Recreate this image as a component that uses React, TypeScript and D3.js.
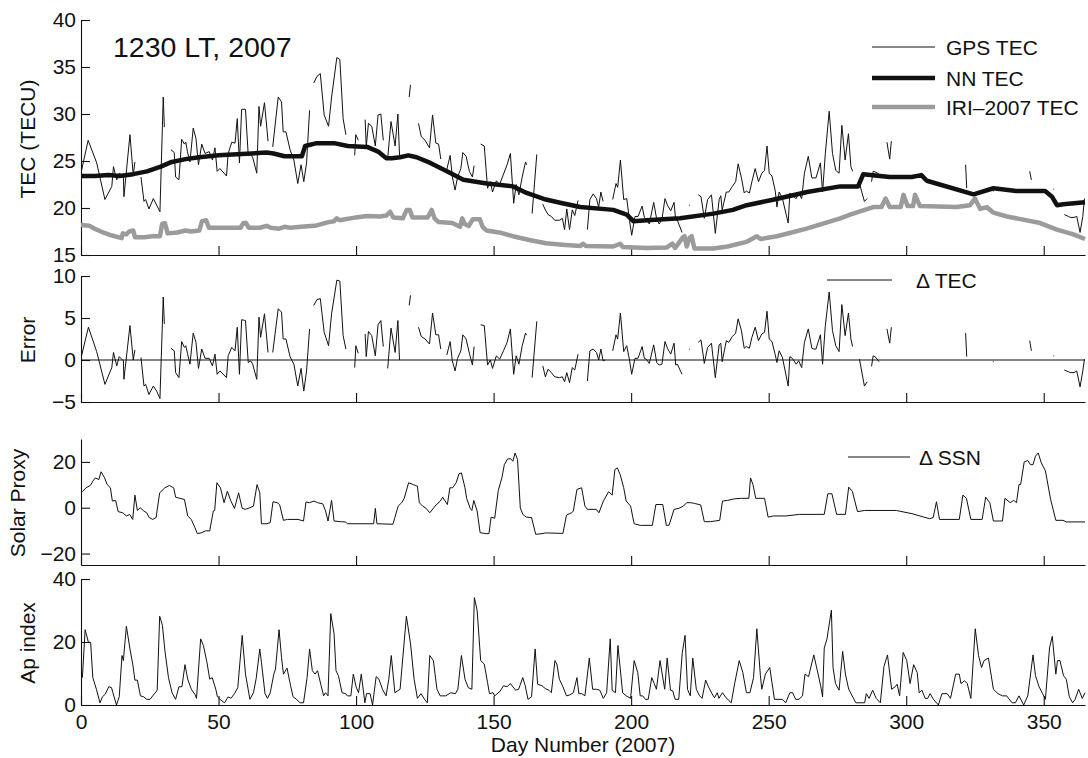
import { useEffect, useRef } from 'react';
import * as d3 from 'd3';

type Pt = [number, number];

const FONT = '"Liberation Sans", Arial, Helvetica, sans-serif';

const dayTicks = [0, 50, 100, 150, 200, 250, 300, 350];
const tecTicks = [15, 20, 25, 30, 35, 40];
const errTicks = [-5, 0, 5, 10];
const ssnTicks = [-20, 0, 20];
const apTicks = [0, 20, 40];

// GPS TEC, daily values with data gaps (one array per continuous run)
const gpsTec: Pt[][] = [
  [[0.2,24.0],[2.6,27.2],[5.7,24.8],[8.7,20.9],[11.2,22.3],[11.8,24.4],[13,23.0],[13.9,23.7],[15.4,23.4],[15.6,21.2],[17.8,27.8],[19,23.5],[19.6,24.9]],
  [[21.8,23.3],[22.9,20.7],[23.5,20.9],[24.7,19.9],[26.3,21.0],[27.5,20.3],[28.7,19.6],[29.9,31.8],[30.3,28.6]],
  [[32.7,26.2],[33.9,25.9],[34.4,23.3],[35.6,23.0],[36.6,27.3],[37.6,26.8],[38.1,27.0],[38.7,26.0],[39.6,24.9],[40.8,28.5],[41.8,27.4],[42.7,24.6],[43.9,26.8],[45.1,25.8],[46.6,26.0],[47.8,25.1],[48.7,26.4],[49.5,23.9],[50.5,24.2],[52.9,23.4],[53.5,25.8],[54.8,27.0],[56,26.9],[56.8,29.5],[57.6,24.8],[58.4,30.5],[59.8,30.5],[60.8,25.6],[61.7,25.7],[62.4,25.4],[63.9,23.7],[64.7,30.8],[65.3,28.7],[66.7,31.2],[68,27.1]],
  [[69.7,26.5],[71.7,31.8],[72.9,31.3],[73.5,28.1],[74.5,28.1],[76,26.2],[77.4,25.1],[78.8,22.6],[80,24.6],[81,22.8],[82,24.8],[83.1,30.4]],
  [[84.6,33.3],[85.8,34.0],[87,34.3],[88.4,29.9],[90,28.7],[91.1,31.8],[93,36.0],[94.1,35.8],[95.3,29.5],[96.3,27.8]],
  [[99.5,25.6],[99.9,27.8],[100.8,27.2]],
  [[103.3,29.4],[103.7,26.5],[104.5,29.0],[105.7,28.7],[107,26.6],[108,29.9],[109,30.0],[109.9,27.2]],
  [[111.5,25.3],[112.7,29.2],[114.2,26.6],[115.2,30.0],[115.8,25.6]],
  [[119.3,31.8],[119.8,33.1]],
  [[122.7,29.0],[123.7,27.6],[125.1,27.2],[126.7,26.4],[127.8,29.9],[129,26.9],[130,26.8],[130.8,25.2]],
  [[133,24.1],[134.2,25.6],[135,23.3],[136,21.9],[136.9,23.3],[138.1,24.2],[138.8,25.9],[140,25.5],[141.2,23.9],[142.3,23.3],[142.9,24.5]],
  [[145.3,26.8],[146.6,26.6],[147.8,22.1],[148.8,22.8],[149.6,21.7],[151,22.9],[152.2,22.5],[153.6,23.6],[154.9,24.6],[156.1,25.8],[157.3,20.5],[158.2,22.5],[159.2,21.4],[160.4,23.3],[161.6,24.9],[162,24.6]],
  [[164,19.4],[165.7,25.7]],
  [[167.9,20.4],[168.8,19.8],[169.8,19.3],[171,19.1],[172.2,18.7],[174,18.7],[175,18.9],[175.8,17.7],[176.6,19.9],[177.6,17.7],[178.6,19.8],[179.5,19.2],[180.7,20.8]],
  [[184.1,17.7],[185,20.9],[186.2,21.5],[187.4,21.0],[188.2,20.1],[189,21.7],[189.8,20.7]],
  [[193.3,20.9],[194.5,22.6],[195.1,22.2],[196.1,25.1],[197.3,20.9],[198.4,21.0],[199.4,18.7],[200.2,17.1],[201.4,19.1],[202.5,19.1],[204,20.2],[204.8,19.0],[205.5,18.8],[206.6,18.3],[208.2,20.6],[209.3,18.8],[210.2,18.3],[211.2,18.8],[212.3,21.0],[213.2,20.3],[214.4,19.7],[215.6,20.6],[216.2,18.7],[216.8,18.7],[218.5,17.4]],
  [[221,20.3],[221.3,20.3]],
  [[224.4,21.4],[225.4,21.2],[226.6,18.9],[227.8,20.9],[229.2,21.4],[230.6,17.3],[232,20.9],[232.6,21.3],[233.1,19.8],[234.6,21.7],[235.5,21.7],[236.8,22.3],[238,22.8],[238.9,24.7],[240.1,23.2],[241.1,21.6],[241.9,21.8],[243,21.6],[243.9,22.8],[245.1,24.2],[246.3,22.8],[247.5,23.7],[248.5,24.0],[249.4,26.6],[250.2,23.7],[251.2,23.4],[252.4,21.8],[253,20.1],[253.8,21.7],[255,21.0],[257.1,18.4],[257.7,21.6],[258.6,21.3],[260,21.0],[260.9,21.6],[262,21.0],[263,23.7],[264.4,25.5],[265.7,23.2],[266.5,23.2],[267.2,23.2],[268.8,24.8],[269.6,21.7],[270.6,25.8],[272,30.3],[273.2,25.8],[274.4,24.0],[275.6,23.7],[276.6,28.8],[277.8,25.1],[279,27.9],[279.9,24.4],[280.5,23.9]],
  [[283.1,22.5],[284.8,20.7],[285.8,21.0]],
  [[287.4,22.8],[288,23.9],[289,23.8],[290.1,23.6]],
  [[293,27.0],[294,25.2],[294.6,27.1]],
  [[321.6,24.6],[322,22.1]],
  [[331.5,21.8],[331.8,21.8]],
  [[344.9,23.9],[345.5,23.0]],
  [[353.5,22.0],[353.8,22.0]],
  [[357.5,19.3],[359,19.1],[359.6,19.0],[361,19.0],[362,19.1],[363.2,17.4],[364.2,19.1],[364.8,21.0]],
];

const nnTec: Pt[] = [
  [0,23.4],[5,23.4],[10,23.5],[14,23.4],[19,23.6],[24,23.9],[29,24.4],[33,24.9],[38,25.2],[43,25.4],[50,25.6],[55,25.7],[62,25.8],[67.5,25.9],[70,25.8],[74,25.5],[80.3,25.5],[81.5,26.6],[85.7,26.9],[92,26.9],[97,26.6],[104,26.5],[108,26.0],[111,25.3],[113,25.3],[116,25.4],[119,25.6],[122,25.4],[127,24.8],[133,23.9],[139,23.0],[147.5,22.6],[157,22.3],[162,21.6],[169,20.9],[175,20.5],[181.5,20.1],[193.5,19.8],[198.4,19.3],[200.8,18.6],[205.7,18.7],[217.8,18.9],[229.9,19.4],[237,19.8],[242,20.3],[252,20.9],[264,21.7],[276,22.3],[282.5,22.3],[284.4,23.6],[294,23.3],[302,23.3],[305.5,23.5],[307.5,22.9],[324.5,21.45],[331.7,22.1],[340,21.8],[350.5,21.8],[353,21.2],[354.8,20.3],[357,20.4],[365,20.6],
];

const iriTec: Pt[] = [
  [0,18.2],[3,18.1],[5,17.8],[8,17.4],[11,17.1],[14.8,16.8],[15.2,17.3],[16.5,17.2],[17.5,17.5],[19,17.6],[19.6,16.9],[23,16.9],[26,17.0],[28.7,17.0],[29.5,18.3],[30.5,18.4],[31.5,17.3],[35,17.4],[38,17.6],[40,17.5],[43,17.6],[44,18.6],[45.5,18.7],[46.5,17.9],[55,17.9],[58,17.9],[59,18.4],[60,18.4],[61,17.9],[65,17.9],[67.5,18.1],[69,17.9],[72,17.8],[74,18.0],[76,17.9],[80,18.0],[85,18.1],[90,18.5],[92,18.6],[93,18.9],[94,18.7],[100,19.0],[104,19.15],[108.7,19.1],[111,19.2],[112.4,19.6],[113.5,19.0],[117,18.9],[118.4,19.8],[119.5,19.8],[120.5,19.0],[126,19.0],[127.5,19.8],[128.5,18.9],[130,18.5],[135,18.4],[137.8,18.0],[138.6,18.9],[139.5,18.3],[141,18.1],[142.4,18.8],[145,18.8],[146,18.0],[147.5,17.6],[152,17.4],[157,17.0],[163,16.6],[169,16.25],[175,16.1],[181.5,15.95],[182.5,16.2],[183.5,15.95],[193.5,15.9],[196,16.2],[197,15.85],[205.7,15.75],[213,15.8],[215,16.2],[216,15.75],[218.6,16.8],[219.4,17.0],[220.2,15.9],[221.2,16.8],[222,17.0],[223,15.7],[229.9,15.7],[235,15.9],[242,16.4],[245.7,17.0],[247,16.7],[253,17.0],[263.8,17.8],[276,18.9],[279.6,19.3],[288,20.1],[291,20.1],[292.5,21.0],[294,20.1],[298,20.1],[299,21.4],[300.5,20.2],[302.5,20.2],[303.2,21.4],[305,20.2],[318.4,20.1],[323.2,20.3],[325,21.0],[326.9,19.9],[329.3,20.1],[331.7,19.5],[336.6,19.1],[348.7,18.4],[354.8,17.7],[360.8,17.2],[365,16.7],
];

// Error = GPS TEC - NN TEC
const deltaTec: Pt[][] = [
  [[0.2,0.5],[2.7,3.9],[5.7,1.0],[8.7,-2.9],[11.2,-0.9],[11.8,0.9],[13,-0.7],[13.9,0.4],[15.4,-0.1],[15.6,-2.3],[17.8,4.1],[19,0],[19.6,1.2]],
  [[21.8,0.3],[22.9,-3.1],[23.5,-2.9],[24.7,-4.1],[26.3,-3.1],[27.5,-3.7],[28.7,-4.6],[29.9,7.5],[30.3,4.3]],
  [[32.7,1.4],[33.9,1.1],[34.4,-1.5],[35.6,-2.1],[36.6,2.2],[37.6,1.5],[38.1,1.7],[38.7,0.8],[39.6,-0.5],[40.8,3.2],[41.8,2.1],[42.7,-1.0],[43.9,1.3],[45.1,0.2],[46.6,0.2],[47.8,-0.7],[48.7,0.7],[49.5,-1.7],[50.5,-1.3],[52.9,-2.1],[53.5,0.5],[54.8,1.5],[56,1.1],[56.8,3.9],[57.6,-1.7],[58.4,4.8],[59.8,4.7],[60.8,-0.3],[61.7,-0.1],[62.4,-0.5],[63.9,-2.3],[64.7,5.1],[65.3,2.7],[66.7,5.5],[68,0.9]],
  [[69.7,0.9],[71.7,6.1],[72.9,5.7],[73.5,2.5],[74.5,2.5],[76,0.4],[77.4,-0.5],[78.8,-3.1],[80,-1.0],[81,-3.7],[82,-1.3],[83.1,3.7]],
  [[84.6,6.5],[85.8,7.2],[87,7.3],[88.4,3.3],[90,1.7],[91.1,5.5],[93,9.5],[94.1,9.4],[95.3,2.9],[96.3,1.3]],
  [[99.5,-0.9],[99.9,1.7],[100.8,0.8]],
  [[103.3,3.1],[103.7,0.4],[104.5,3.4],[105.7,2.9],[107,0.5],[108,4.2],[109,4.7],[109.9,1.6]],
  [[111.5,-1.0],[112.7,3.8],[114.2,0.9],[115.2,4.7],[115.8,0]],
  [[119.3,6.5],[119.8,7.7]],
  [[122.7,3.9],[123.7,2.8],[125.1,2.5],[126.7,1.9],[127.8,5.6],[129,3.0],[130,3.0],[130.8,1.3]],
  [[133,0.6],[134.2,2.2],[135,-0.1],[136,-1.3],[136.9,0.2],[138.1,1.1],[138.8,3.0],[140,2.5],[141.2,0.8],[142.3,-0.6],[142.9,1.6]],
  [[145.3,4.2],[146.6,4.1],[147.8,-0.6],[148.8,0],[149.6,-1.0],[151,0.5],[152.2,0.1],[153.6,1.1],[154.9,2.1],[156.1,3.7],[157.3,-1.7],[158.2,0.5],[159.2,-0.5],[160.4,1.7],[161.6,3.2],[162,3.0]],
  [[164,-2.1],[165.7,4.6]],
  [[167.9,-0.7],[168.8,-2.0],[169.8,-1.1],[171,-1.5],[172.2,-2.0],[174,-2.1],[175,-2.0],[175.8,-2.6],[176.6,-1.5],[177.6,-2.7],[178.6,-0.9],[179.5,-1.2],[180.7,0.7]],
  [[184.1,-2.5],[185,1.1],[186.2,1.3],[187.4,0.9],[188.2,0],[189,1.3],[189.8,-0.1],[190.6,0]],
  [[193.3,1.1],[194.5,3.0],[195.1,2.5],[196.1,5.6],[197.3,1.0],[198.4,1.7],[199.4,0],[200.2,-1.7],[201.4,0.2],[202.5,0.2],[204,1.6],[204.8,0.2],[205.5,0.1],[206.6,-0.4],[208.2,1.8],[209.3,-0.3],[210.2,-0.6],[211.2,-0.5],[212.3,2.2],[213.2,1.4],[214.4,0.7],[215.6,2.0],[216.2,-0.6],[216.8,-0.5],[218.5,-1.7]],
  [[221,1.3],[221.3,1.3]],
  [[224.4,2.1],[225.4,2.4],[226.6,-0.4],[227.8,1.5],[229.2,2.0],[230.6,-2.1],[232,1.8],[232.6,2.0],[233.1,-0.2],[234.6,2.3],[235.5,2.1],[236.8,2.8],[238,3.2],[238.9,4.9],[240.1,3.5],[241.1,1.4],[241.9,1.6],[243,1.4],[243.9,2.7],[245.1,3.9],[246.3,2.3],[247.5,3.1],[248.5,3.3],[249.4,5.8],[250.2,2.5],[251.2,2.2],[252.4,0.6],[253,-0.3],[253.8,1.1],[255,0.3],[257.1,-3.1],[257.7,0.4],[258.6,0.2],[260,-0.5],[260.9,-0.1],[262,-0.9],[263,2.1],[264.4,3.7],[265.7,1.4],[266.5,1.3],[267.2,1.3],[268.8,3.0],[269.6,-0.5],[270.6,4.1],[272,8.1],[273.2,3.5],[274.4,1.7],[275.6,1.0],[276.6,6.6],[277.8,2.9],[279,5.6],[279.9,2.5],[280.5,1.6]],
  [[283,0.1],[284.8,-3.1],[285.8,-2.6]],
  [[287.4,-0.75],[288,0.5],[289,0.3],[290.1,-0.2]],
  [[293,3.7],[294,2.0],[294.6,3.9]],
  [[321.6,3.2],[322,0.4]],
  [[331.5,-0.2],[331.8,-0.2]],
  [[344.9,2.3],[345.5,1.1]],
  [[353.5,0.5],[353.8,0.5]],
  [[357.5,-1.2],[359,-1.4],[359.6,-1.5],[361,-1.5],[362,-1.3],[363.2,-3.2],[364.2,-1.3],[364.8,0.1]],
];

const deltaSsn: Pt[] = [
  [0.5,7.0],[1.8,8.7],[3.4,9.7],[4.3,11.6],[5.2,13.0],[6.5,12.3],[7.3,15.7],[8.6,13.0],[9.5,10.1],[10.7,8.7],[11.4,2.9],[12.6,3.2],[13.5,-1.7],[15.2,-2.2],[16.5,-3.6],[17.7,-2.9],[18.8,-5.1],[19.6,5.5],[20.5,-1.2],[21.5,0],[22.8,-1.4],[23.9,-2.2],[24.8,-4.3],[26.1,-5.1],[27.3,-4.3],[28.6,6.5],[30.5,8.7],[32.1,9.7],[33.7,8.7],[34.4,4.6],[35.9,4.1],[37.6,3.6],[38.8,-3.6],[40.1,-5.1],[41.4,-8.7],[42.3,-11.3],[43.9,-10.9],[45.2,-10.1],[46.8,-10.1],[48.1,-1.4],[48.6,-1.2],[49.4,10.9],[50.7,8.7],[52,2.2],[53.2,7.2],[54.5,2.9],[55.8,-0.3],[57.3,6.5],[58.6,-0.3],[59.8,-0.7],[61.4,0],[62.7,0.7],[64,10.1],[65,6.5],[65.6,-7.0],[67.5,-7.0],[68.8,-6.5],[69.8,2.6],[71.3,2.2],[72.2,1.4],[73.6,-5.5],[75.1,-5.1],[78.9,-5.1],[80.9,-5.8],[81.8,2.5],[83,2.2],[84.7,2.9],[86,2.2],[87.9,1.7],[88.9,-1.4],[89.8,-5.8],[91.1,3.2],[92,-5.8],[94.3,-6.1],[96.2,-6.2],[96.8,-7.0],[106.4,-7.0],[107,-0.3],[107.6,-7.0],[113.4,-7.2],[114.1,-4.3],[115.3,0.7],[116.6,2.2],[117.5,4.1],[119.1,10.9],[120.8,10.1],[122.3,9.4],[123,2.2],[124.2,0.7],[125.5,-0.3],[126.8,-2.2],[128.7,0.7],[130.6,2.9],[131.5,4.6],[133.2,1.4],[134.1,8.7],[135.1,8.7],[136.4,10.9],[137.4,14.8],[138.3,15.2],[139.6,8.7],[140.2,4.1],[141.5,-0.3],[142.1,-1.2],[142.8,3.2],[144,-1.4],[145.1,-10.9],[147.2,-11.3],[148.3,-11.3],[149.1,-4.1],[150.4,-4.6],[151.7,7.5],[153,13],[153.9,18.8],[155.1,21.3],[156.2,21.4],[157,20.3],[157.8,23.9],[158.7,21],[159.7,0],[160.6,-2.9],[161.9,-4.1],[163.8,-4.3],[165.3,-11.6],[167.6,-11.3],[168.9,-11.0],[175.2,-11.2],[176.5,-3.2],[178.4,-2.2],[179,-1.4],[180.3,8.0],[182,8.7],[183.2,0.7],[184.1,-0.7],[187.3,-0.7],[188.3,-2.2],[189.9,2.9],[191.8,7.0],[193.1,5.5],[194.1,16.7],[195,17.4],[196,14.5],[197.3,8.7],[198.2,2.9],[199.8,0.7],[201.1,-7.0],[203.3,-7.7],[207.7,-7.7],[209,1.4],[211.5,1.4],[212.8,-7.7],[213.8,-7.6],[215.6,-0.7],[217.3,-0.3],[219,0.7],[220.2,2.2],[221.7,2.2],[223,1.9],[225.3,1.2],[226.6,-6.1],[228.8,-6.1],[232.2,-5.5],[233.2,2.9],[235.1,3.2],[237.7,3.9],[240.2,4.1],[242.8,4.1],[243.4,13],[244.3,10.1],[245.3,4.1],[248.5,4.1],[249.8,-4.1],[251.7,-3.6],[256.2,-3.6],[261.3,-2.9],[270.2,-2.9],[271.5,6.1],[273,6.1],[274.7,-2.9],[277.9,-2.9],[279.1,9.0],[280.4,7.2],[282.3,-1.7],[284.9,-1.2],[296.4,-1.2],[302.1,-2.6],[308.5,-4.8],[309.8,-4.3],[311,2.6],[312.1,-5.1],[319.3,-5.1],[320.6,5.5],[321.9,4.1],[323.5,-5.1],[327.6,-5.1],[328.9,4.6],[330.4,2.2],[331.7,-5.8],[335,-5.8],[335.9,4.1],[337.8,2.2],[339.1,3.2],[340.1,2.2],[341,10.1],[341.6,10.1],[342.9,20],[344.2,20.6],[345.2,18.8],[346.1,18.8],[347,22.5],[348,23.9],[349.1,19.6],[350.6,16.2],[352.5,3.6],[354.4,-5.5],[357,-5.5],[358.2,-6.2],[365,-6.2],
];

const apIndex: Pt[] = [
  [0.5,8.7],[1.5,23.9],[2.7,19.9],[3.5,19.9],[4.3,8.7],[5.6,5.0],[6.9,0.7],[7.8,2.6],[8.8,3.4],[10.1,5.8],[11.1,5.5],[11.6,3.9],[12.9,0],[13.9,2.6],[14.9,15.7],[15.4,14.1],[16.5,25],[17.8,17.8],[18.8,13],[19.6,7.9],[20.5,7.9],[21.6,2.9],[22.8,2.6],[23.9,1.8],[25.1,1.8],[26.7,3.6],[27.7,4.7],[28.6,28.2],[29.6,25.3],[30.5,17.3],[31.8,8.7],[33.1,3.9],[34.4,1.8],[35.6,5.8],[36.7,5.8],[37.8,12.8],[38.8,8.2],[40.1,5.0],[41.4,3.4],[42,2.1],[43.5,21],[44.5,18.9],[45.8,13.5],[46.8,8.2],[47.7,8.7],[49,5.0],[49.6,2.6],[50.9,1.5],[52.2,0.7],[53.5,2.6],[54.5,2.1],[55.8,3.6],[57,5.5],[58.6,22.1],[59.8,9.8],[61.4,1.8],[62.7,3.9],[63.7,8.5],[65,17.8],[65.6,13.5],[66.9,3.6],[67.8,2.1],[68.8,3.9],[70.1,9.8],[70.7,11.4],[72,23.9],[72.9,15.1],[73.6,9.8],[74.9,11.7],[76.2,6.1],[77.1,2.6],[78.4,1.8],[79.6,0.7],[80.9,0.7],[82.2,8.7],[83.1,17.8],[84.1,10.9],[85.1,9.8],[86,10.9],[87.3,6.1],[88.2,2.9],[88.9,3.9],[89.8,2.9],[90.8,29],[92,22.6],[92.7,10.9],[93.6,9.3],[94.9,3.9],[96.2,3.6],[96.8,2.9],[98.1,2.9],[99,9.8],[100,5.8],[100.9,3.9],[101.9,9.8],[103.2,0.7],[103.8,3.6],[105.1,3.6],[106,0],[107.3,9.0],[108.3,8.2],[109.6,5.0],[110.9,2.9],[111.9,8.2],[112.8,15.7],[114.1,3.9],[116,5.0],[118.3,28.2],[119.8,19.4],[121.1,8.2],[122.3,2.1],[123.6,3.6],[124.9,1.8],[125.9,0.7],[126.8,15.7],[128.1,14.1],[129.4,5.0],[130.6,2.9],[132.6,2.9],[134.4,3.9],[136.1,3.6],[137,5.0],[138.3,15.7],[139.6,8.2],[140.8,5.5],[142.1,5.0],[143,34.1],[144,30.1],[145.3,14.1],[146.6,13],[147.8,7.1],[148.5,3.6],[149.8,3.9],[150.4,2.9],[152.3,4.3],[153.6,6.1],[154.9,5.8],[156.1,6.8],[158,4.7],[159.1,5.0],[160.6,8.7],[161.5,6.1],[162.5,1.8],[163.8,2.6],[165.1,17.8],[166,6.6],[167.6,6.1],[168.8,5.2],[170.1,4.7],[171,3.9],[172.3,14.1],[173,13],[173.9,8.2],[175.2,5.8],[176.5,2.9],[177.7,3.2],[179,3.9],[180.3,8.7],[181,3.6],[182,3.6],[183.2,2.9],[184.8,14.9],[186,5.0],[187.3,5.0],[188.6,4.7],[189.9,2.1],[191.1,3.9],[192.4,21],[193.1,4.7],[194.3,3.9],[195.2,18.9],[196.9,3.9],[198.2,2.9],[199.8,2.1],[201.1,14.1],[202.4,10.3],[203.3,2.9],[204.2,2.9],[205.2,1.8],[206.2,1.8],[207.5,8.7],[208.4,6.8],[209.2,5.0],[210.5,14.1],[212.2,5.0],[213.1,14.9],[214.3,4.7],[215.1,4.5],[216,1.8],[217.3,1.8],[218.6,16.7],[219.6,22.1],[220.5,5.0],[221.5,2.9],[222.4,14.9],[223.7,5.0],[224.9,2.9],[225.8,2.1],[227.1,7.9],[228.1,5.8],[229.4,3.6],[230.3,2.3],[231.3,3.9],[231.9,2.1],[233.2,3.9],[234.5,2.3],[236.4,0.7],[237.7,7.1],[239.3,14.1],[240.6,10.3],[241.9,3.9],[243.2,3.9],[244.5,8.7],[245.7,24.2],[247,9.3],[247.5,5.0],[248.8,9.8],[250.4,11.9],[252.1,1.8],[254.9,1.8],[256.2,0.7],[257.7,3.9],[258.7,3.9],[259.8,1.8],[261,1.8],[262.3,2.9],[263.2,9.8],[264.5,9.0],[266.4,15.9],[267.7,10.9],[268.9,6.1],[269.6,2.6],[270.2,18.1],[271.2,21],[272.8,30.1],[273.4,11.9],[274.3,6.8],[275.6,4.7],[276.9,17],[277.9,9.8],[279.1,5.0],[281.7,0.7],[284.9,0.7],[285.5,3.6],[286.5,2.1],[287.8,4.7],[289.1,2.1],[290.6,0.7],[291.9,12.2],[293.2,15.9],[294.7,5.0],[296,5.8],[296.7,6.6],[297.6,2.9],[298.9,16.7],[300.2,14.1],[301.4,6.8],[302.7,12.8],[304,10.3],[304.7,3.9],[305.7,4.7],[306.9,2.1],[307.8,2.1],[308.7,3.6],[309.9,1.8],[311.7,0],[313,3.6],[314.9,3.6],[316.1,2.1],[318,9.8],[319.3,9.8],[319.9,6.8],[321.2,7.7],[322.2,6.8],[323.5,2.1],[325.1,24.2],[326.3,15.7],[327.4,11.9],[328.3,14.1],[329.9,14.9],[331.7,5.0],[333.4,3.6],[335,2.9],[336.5,2.9],[338.5,0.7],[339.7,0.7],[341,2.9],[342.7,0],[344.2,2.9],[346.1,15.9],[347,9.3],[348.3,5.8],[349.6,3.6],[350.6,1.8],[352.1,18.1],[353.1,21.8],[354.4,9.8],[355,14.1],[355.9,14.1],[357.2,9.3],[358.2,8.2],[359.3,2.6],[360.5,0.7],[361.4,1.8],[362.7,5.0],[364,2.1],[365,3.9],
];

const W = 1088;
const H = 758;

const TecChart = () => {
  const svgRef = useRef<SVGSVGElement>(null);

  useEffect(() => {
    const svg = d3.select(svgRef.current);
    svg.selectAll('*').remove();

    const x = d3.scaleLinear().domain([0, 365]).range([81, 1085]);

    const yTec = d3.scaleLinear().domain([15, 40]).range([255, 20]);
    const yErr = d3.scaleLinear().domain([-5, 10]).range([402, 276]);
    const ySsn = d3.scaleLinear().domain([-25, 30]).range([565, 439]);
    const yAp = d3.scaleLinear().domain([0, 40]).range([705, 579]);

    const fmt = (d: d3.NumberValue) => d3.format('d')(d as number);

    // axes for each panel: ticks point inward, no box
    const drawAxes = (y: d3.ScaleLinear<number, number>, ticks: number[], labels: boolean) => {
      const bottom = y.range()[0];
      const gx = svg.append('g')
        .attr('transform', `translate(0,${bottom})`)
        .call(d3.axisBottom(x).tickValues(dayTicks).tickSizeInner(-9).tickSizeOuter(0).tickPadding(9)
          .tickFormat(labels ? fmt : () => ''));
      const gy = svg.append('g')
        .attr('transform', 'translate(81,0)')
        .call(d3.axisLeft(y).tickValues(ticks).tickSizeInner(-9).tickSizeOuter(0).tickPadding(5).tickFormat(fmt));
      [gx, gy].forEach(g => {
        g.attr('font-size', 21).attr('font-family', FONT).attr('color', '#111');
        g.selectAll('path, line').attr('stroke-width', 1.1);
      });
    };

    drawAxes(yTec, tecTicks, false);
    drawAxes(yErr, errTicks, false);
    drawAxes(ySsn, ssnTicks, false);
    drawAxes(yAp, apTicks, true);

    const lineOf = (y: d3.ScaleLinear<number, number>) =>
      d3.line<Pt>().x(d => x(d[0])).y(d => y(d[1]));

    // TEC panel
    svg.append('g').selectAll('path')
      .data(gpsTec)
      .enter()
      .append('path')
      .attr('d', d => lineOf(yTec)(d))
      .attr('fill', 'none')
      .attr('stroke', '#111')
      .attr('stroke-width', 1);

    svg.append('path')
      .attr('d', lineOf(yTec)(iriTec))
      .attr('fill', 'none')
      .attr('stroke', '#9b9b9b')
      .attr('stroke-width', 4.5)
      .attr('stroke-linejoin', 'round');

    svg.append('path')
      .attr('d', lineOf(yTec)(nnTec))
      .attr('fill', 'none')
      .attr('stroke', '#111')
      .attr('stroke-width', 4.5)
      .attr('stroke-linejoin', 'round');

    // Error panel
    svg.append('line')
      .attr('x1', x(0)).attr('x2', x(365))
      .attr('y1', yErr(0)).attr('y2', yErr(0))
      .attr('stroke', '#111').attr('stroke-width', 1.1);

    svg.append('g').selectAll('path')
      .data(deltaTec)
      .enter()
      .append('path')
      .attr('d', d => lineOf(yErr)(d))
      .attr('fill', 'none')
      .attr('stroke', '#111')
      .attr('stroke-width', 1);

    // Solar proxy panel
    svg.append('path')
      .attr('d', lineOf(ySsn)(deltaSsn))
      .attr('fill', 'none')
      .attr('stroke', '#111')
      .attr('stroke-width', 1);

    // Ap panel
    svg.append('path')
      .attr('d', lineOf(yAp)(apIndex))
      .attr('fill', 'none')
      .attr('stroke', '#111')
      .attr('stroke-width', 1);

    // texts
    const text = (tx: number, ty: number, s: string, size: number, anchor = 'start', rotate = false) =>
      svg.append('text')
        .attr('transform', `translate(${tx},${ty})${rotate ? ' rotate(-90)' : ''}`)
        .attr('text-anchor', anchor)
        .attr('font-family', FONT)
        .attr('font-size', size)
        .attr('fill', '#111')
        .text(s);

    text(113, 57, '1230 LT, 2007', 28.5);

    text(35, 139, 'TEC (TECU)', 21, 'middle', true);
    text(35, 340, 'Error', 21, 'middle', true);
    text(25, 503, 'Solar Proxy', 21, 'middle', true);
    text(35, 643, 'Ap index', 21, 'middle', true);
    text(583, 752, 'Day Number (2007)', 21, 'middle');

    // legends
    const legend = [
      { label: 'GPS TEC', y: 47, color: '#111', w: 1 },
      { label: 'NN TEC', y: 78, color: '#111', w: 4.5 },
      { label: 'IRI\u20132007 TEC', y: 107, color: '#9b9b9b', w: 4.5 },
    ];
    legend.forEach(l => {
      svg.append('line')
        .attr('x1', 872).attr('x2', 935).attr('y1', l.y).attr('y2', l.y)
        .attr('stroke', l.color).attr('stroke-width', l.w);
      text(946, l.y + 8, l.label, 21);
    });

    svg.append('line').attr('x1', 827).attr('x2', 892).attr('y1', 280).attr('y2', 280)
      .attr('stroke', '#111').attr('stroke-width', 1);
    text(916, 288, '\u0394 TEC', 21);

    svg.append('line').attr('x1', 848).attr('x2', 910).attr('y1', 457).attr('y2', 457)
      .attr('stroke', '#111').attr('stroke-width', 1);
    text(919, 465, '\u0394 SSN', 21);
  }, []);

  return (
    <svg ref={svgRef} width={W} height={H}
      style={{ position: 'absolute', left: 0, top: 0, display: 'block', background: '#fff' }} />
  );
};

export default function App() {
  return <TecChart />;
}
